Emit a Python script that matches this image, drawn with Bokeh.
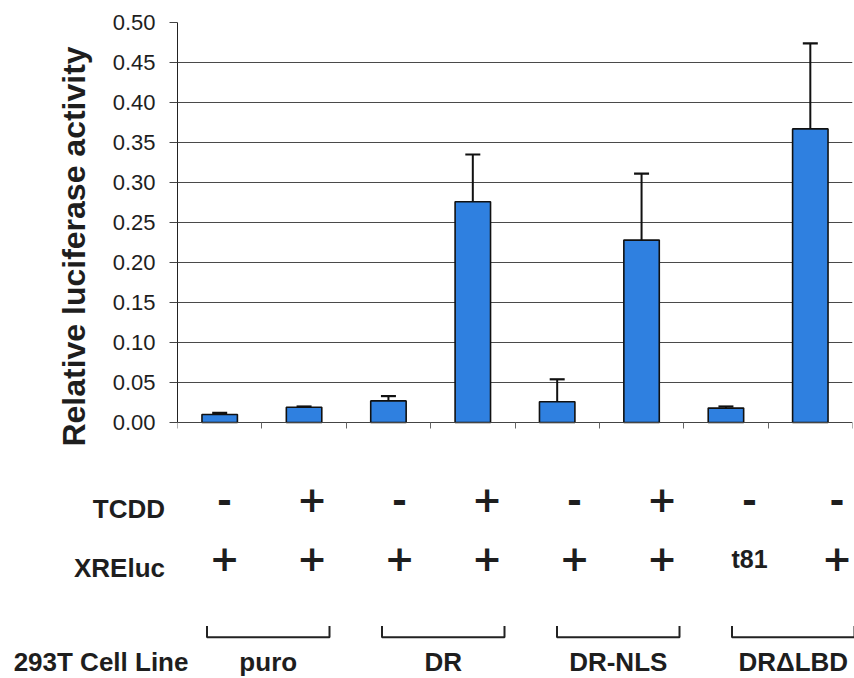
from bokeh.plotting import figure
from bokeh.models import Range1d, FixedTicker, ColumnDataSource, Whisker, TeeHead, Grid
from bokeh.core.properties import value
from bokeh.embed import file_html
from bokeh.resources import INLINE

# ---------------- data ----------------
cell_lines = ["puro", "DR", "DR-NLS", "DR\u0394LBD"]
tcdd = ["-", "+", "-", "+", "-", "+", "-", "-"]
xreluc = ["+", "+", "+", "+", "+", "+", "t81", "+"]
luciferase = [0.010, 0.019, 0.027, 0.276, 0.026, 0.228, 0.018, 0.367]
errors = [0.002, 0.001, 0.006, 0.059, 0.028, 0.083, 0.002, 0.107]
y_ticks = [0.0, 0.05, 0.10, 0.15, 0.20, 0.25, 0.30, 0.35, 0.40, 0.45, 0.50]
y_tick_labels = ["0.00", "0.05", "0.10", "0.15", "0.20", "0.25", "0.30", "0.35", "0.40", "0.45", "0.50"]
y_title = "Relative luciferase activity"
row_labels = ["TCDD", "XREluc"]
cell_line_title = "293T Cell Line"

FONT = "Liberation Sans"
INK = "#1e1e1e"
W = 854

n = len(luciferase)
idx = list(range(n))
centers = [i + 0.5 for i in idx]
y_lo, y_hi = y_ticks[0], y_ticks[-1]

# ---------------- bar chart ----------------
# frame extends a little below 0 so the axis title sits lower, as in the original
p = figure(width=W, height=470, x_range=Range1d(0, n), y_range=Range1d(-0.06, y_hi),
           output_backend="svg", toolbar_location=None,
           min_border_left=177, min_border_right=2, min_border_top=22, min_border_bottom=0)

src = ColumnDataSource(dict(x=centers, top=luciferase,
                            upper=[v + e for v, e in zip(luciferase, errors)]))

p.vbar(x="x", top="top", bottom=0, width=0.42, source=src,
       fill_color="#2f80e0", line_color="#111111", line_width=1.6)

w = Whisker(base="x", lower="top", upper="upper", source=src, dimension="height",
            line_color="#111111", line_width=2,
            upper_head=TeeHead(size=15, line_color="#111111", line_width=2.2),
            lower_head=None, level="overlay")
p.add_layout(w)

# y axis
p.yaxis.bounds = (y_lo, y_hi)
p.yaxis.ticker = FixedTicker(ticks=y_ticks)
p.yaxis.major_label_overrides = {t: l for t, l in zip(y_ticks, y_tick_labels)}
p.yaxis.major_label_text_font = FONT
p.yaxis.major_label_text_font_size = "22px"
p.yaxis.major_label_text_color = INK
p.yaxis.major_tick_out = 8
p.yaxis.major_tick_in = 0
p.yaxis.minor_tick_line_color = None
p.yaxis.major_label_standoff = 14
p.yaxis.axis_line_color = "#222222"
p.yaxis.major_tick_line_color = "#444444"
p.yaxis.axis_label = y_title
p.yaxis.axis_label_text_font = FONT
p.yaxis.axis_label_text_font_style = "bold"
p.yaxis.axis_label_text_font_size = "32px"
p.yaxis.axis_label_text_color = INK
p.yaxis.axis_label_standoff = 18

# x axis at y = 0: ticks at category boundaries, no labels
p.xaxis.fixed_location = 0
p.xaxis.ticker = FixedTicker(ticks=list(range(0, n + 1)))
p.xaxis.major_label_overrides = {i: "" for i in range(0, n + 1)}
p.xaxis.major_label_text_font_size = "1px"
p.xaxis.major_tick_out = 6
p.xaxis.major_tick_in = 0
p.xaxis.minor_tick_line_color = None
p.xaxis.axis_line_color = "#444444"
p.xaxis.major_tick_line_color = "#666666"

p.xgrid.visible = False
p.ygrid.ticker = FixedTicker(ticks=y_ticks[1:-1])
p.ygrid.grid_line_color = "#4a4a4a"
p.ygrid.grid_line_width = 1
p.outline_line_color = None
# light border on top and right of the plot area
p.add_layout(Grid(dimension=1, ticker=FixedTicker(ticks=[y_hi]), grid_line_color="#c8c8c8"))
p.add_layout(Grid(dimension=0, ticker=FixedTicker(ticks=[n]), bounds=(y_lo, y_hi), grid_line_color="#c8c8c8"))

# ---------------- condition table ----------------
STEP = 87.5
b = figure(width=W, height=208, x_range=Range1d(-224 / STEP, (W - 224) / STEP), y_range=Range1d(2.847, -0.644),
           output_backend="svg", toolbar_location=None, min_border=0,
           x_axis_location=None, y_axis_location=None)
b.grid.visible = False
b.outline_line_color = None

# row labels
b.text(x=[-0.68, -0.68], y=[0, 1], text=row_labels, text_align="right", text_baseline="middle",
       text_font=value(FONT), text_font_style="bold", text_font_size="26px", text_color=INK)

plus_x, plus_y, minus_x, minus_y, txt_x, txt_y, txt_t = [], [], [], [], [], [], []
for row, vals in enumerate([tcdd, xreluc]):
    for i, s in enumerate(vals):
        if s == "+":
            plus_x.append(i); plus_y.append(row)
        elif s == "-":
            minus_x.append(i); minus_y.append(row)
        else:
            txt_x.append(i); txt_y.append(row); txt_t.append(s)

b.text(x=plus_x, y=plus_y, text=["+"] * len(plus_x), text_align="center", text_baseline="middle", y_offset=-10,
       text_font=value("DejaVu Sans"), text_font_style="bold", text_font_size="36px", text_color=INK)
b.text(x=minus_x, y=minus_y, text=["-"] * len(minus_x), text_align="center", text_baseline="middle", y_offset=-9,
       text_font=value("DejaVu Sans"), text_font_style="bold", text_font_size="36px", text_color=INK)
b.text(x=txt_x, y=txt_y, text=txt_t, text_align="center", text_baseline="middle", y_offset=-9,
       text_font=value(FONT), text_font_style="bold", text_font_size="25px", text_color=INK)

# brackets for cell lines (each spans a pair of conditions)
pair_c = [2 * k + 0.5 for k in range(len(cell_lines))]
xs = [[c - 0.7, c - 0.7, c + 0.7, c + 0.7] for c in pair_c]
ys = [[1.966, 2.153, 2.153, 1.966] for _ in pair_c]
b.multi_line(xs=xs, ys=ys, line_color="#222222", line_width=2)

b.text(x=pair_c, y=[2.576] * len(pair_c), text=cell_lines, text_align="center", text_baseline="middle",
       text_font=value(FONT), text_font_style="bold", text_font_size="26px", text_color=INK)
b.text(x=[-2.41], y=[2.576], text=[cell_line_title], text_align="left", text_baseline="middle",
       text_font=value(FONT), text_font_style="bold", text_font_size="26px", text_color=INK)

open("out.html", "w").write(file_html([p, b], INLINE))
